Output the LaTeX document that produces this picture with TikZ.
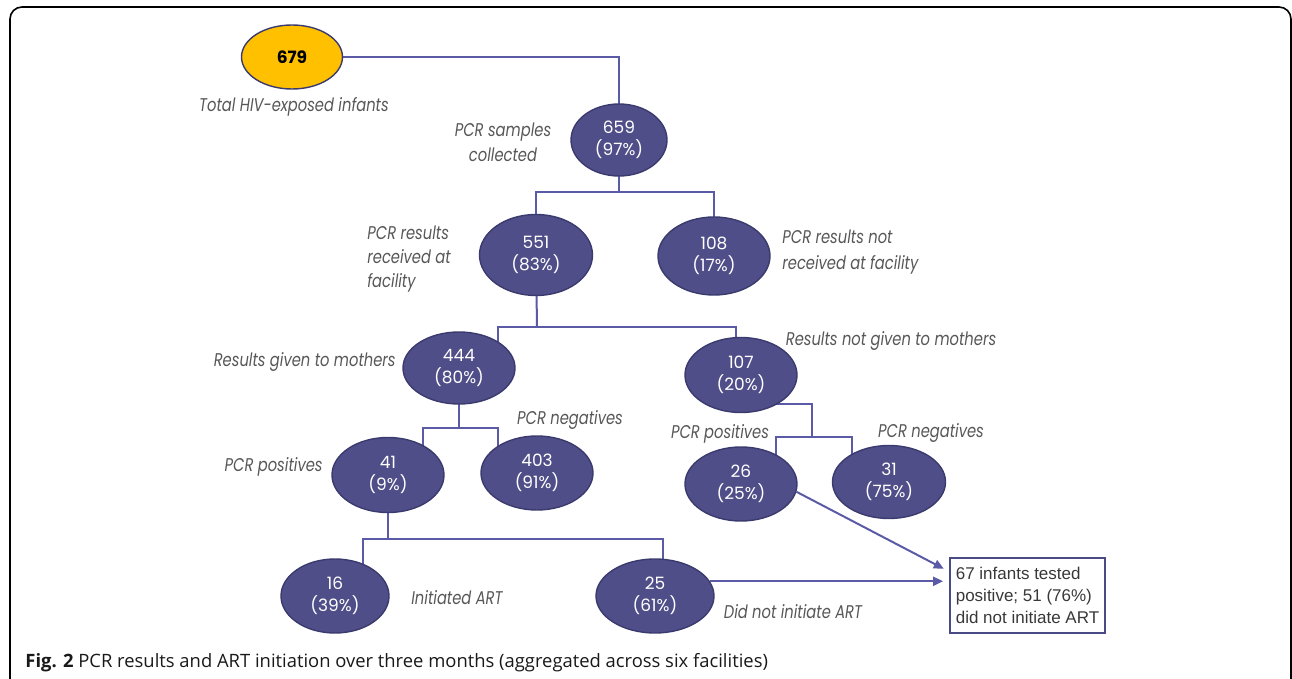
\documentclass[tikz,border=0pt]{standalone}
\usepackage{fontspec}
\setmainfont{Open Sans}
\newfontfamily\labf[FakeStretch=0.8]{Poppins}
\newfontfamily\numf{Poppins}
\newfontfamily\boxf{Liberation Sans}
\usetikzlibrary{arrows.meta,backgrounds,shapes.geometric}
\definecolor{ellfill}{HTML}{4F4E88}
\definecolor{elldraw}{HTML}{3A3A6E}
\definecolor{conncol}{HTML}{5A5AA6}
\definecolor{labcol}{HTML}{575757}
\definecolor{boxcol}{HTML}{4A4A84}
\definecolor{gold}{HTML}{FFC000}
\begin{document}
\begin{tikzpicture}[x=0.5pt,y=-0.5pt,
  ell/.style={ellipse, draw=elldraw, line width=0.7pt, fill=ellfill, text=white, inner sep=0pt,
    minimum width=56pt, minimum height=37pt, font=\numf\fontsize{8.5}{11}\selectfont, align=center},
  lab/.style={text=labcol, font=\labf\itshape\fontsize{9.2}{12}\selectfont, inner sep=0pt},
  conn/.style={draw=conncol, line width=1pt},
  arr/.style={conn, -{Triangle[length=5pt,width=4.5pt]}}]
\useasboundingbox (0,0) rectangle (1292,679);
\draw[line width=0.8pt, rounded corners=6pt] (10,7) rectangle (1291,700);

% nodes
\node[ell, fill=gold, text=black, minimum width=50.5pt, minimum height=32pt, font=\numf\bfseries\fontsize{8.5}{11}\selectfont] (n679) at (292,57) {679};
\node[ell, minimum width=48pt, minimum height=36pt] (n659) at (619,140) {659\\(97\%)};
\node[ell, minimum width=56.5pt, minimum height=40.5pt] (n551) at (536,255) {551\\(83\%)};
\node[ell, minimum width=56pt, minimum height=39pt] (n108) at (714,256) {108\\(17\%)};
\node[ell, minimum height=36pt] (n444) at (459,368) {444\\(80\%)};
\node[ell, minimum height=37.5pt] (n107) at (741,375) {107\\(20\%)};
\node[ell, minimum height=37.5pt] (n41) at (388,475) {41\\(9\%)};
\node[ell] (n403) at (537,473) {403\\(91\%)};
\node[ell] (n26) at (741,484) {26\\(25\%)};
\node[ell, minimum width=56.5pt, minimum height=36.5pt] (n31) at (889,482) {31\\(75\%)};
\node[ell, minimum width=54pt] (n16) at (335,596) {16\\(39\%)};
\node[ell, minimum width=59pt] (n25) at (655,596) {25\\(61\%)};
\node[draw=boxcol, line width=0.9pt, minimum width=77.5pt, minimum height=37.5pt, align=left,
  inner sep=1pt, text=black!78, font=\boxf\fontsize{8.5}{11}\selectfont] (box) at (1027.5,595.5)
  {67 infants tested\\positive; 51 (76\%)\\did not initiate ART};

% connectors
\begin{scope}[on background layer]
\draw[conn] (n679.center) -| (n659.center);
\coordinate (b1) at (619,192);
\draw[conn] (n659.center) -- (b1);
\draw[conn] (b1) -| (n551.center);
\draw[conn] (b1) -| (n108.center);
\coordinate (b2) at (537,327);
\coordinate (b2l) at (498,327);
\coordinate (b2r) at (736,327);
\draw[conn] (n551.center) -- (b2);
\draw[conn] (b2l |- n444.center) -- (b2l) -- (b2r) -- (b2r |- n107.center);
\coordinate (b3l) at (423,428);
\coordinate (b3r) at (498,428);
\draw[conn] (n444.center) -- (n444.center |- b3l);
\draw[conn] (b3l |- n41.center) -- (b3l) -- (b3r) -- (b3r |- n403.center);
\coordinate (b4t) at (812,404);
\coordinate (b4l) at (776,437);
\coordinate (b4r) at (852,437);
\draw[conn] (b4t -| n107.center) -- (b4t) -- (b4t |- b4l);
\draw[conn] (b4l |- n26.center) -- (b4l) -- (b4r) -- (b4r |- n31.center);
\coordinate (b5l) at (363,539);
\coordinate (b5r) at (663,539);
\draw[conn] (n41.center) -- (n41.center |- b5l);
\draw[conn] (b5l |- n16.center) -- (b5l) -- (b5r) -- (b5r |- n25.center);
\end{scope}
\draw[arr, shorten >=3pt] (n25.15) -- (n25.15 -| box.west);
\draw[arr, shorten >=3pt] (n26.-8) -- (box.163);

% labels
\node[lab] (lTotal) at (294,107) {Total HIV-exposed infants};
\node[lab, align=center, font=\labf\itshape\fontsize{9.2}{12.5}\selectfont] (lSamp) at (503,142) {PCR samples\\collected};
\node[lab, align=left, anchor=west] (lRec) at (367,259) {PCR results\\received at\\facility};
\node[lab, align=left, anchor=west, font=\labf\itshape\fontsize{9.2}{13}\selectfont] (lNotRec) at (782,252) {PCR results not\\received at facility};
\node[lab, anchor=east] (lGiven) at (396,362) {Results given to mothers};
\node[lab] (lNotGiven) at (891,341) {Results not given to mothers};
\node[lab] (lNeg1) at (570,420) {PCR negatives};
\node[lab, anchor=east] (lPos1) at (323,467) {PCR positives};
\node[lab] (lPos2) at (720,434) {PCR positives};
\node[lab] (lNeg2) at (931,433) {PCR negatives};
\node[lab] (lInit) at (457,598) {Initiated ART};
\node[lab] (lNotInit) at (793,612) {Did not initiate ART};
\node[anchor=west, inner sep=0pt, text=black!90, font=\fontsize{9.2}{10}\selectfont] (cap) at (25,663)
  {\textbf{Fig. 2} PCR results and ART initiation over three months (aggregated across six facilities)};
\end{tikzpicture}
\end{document}
